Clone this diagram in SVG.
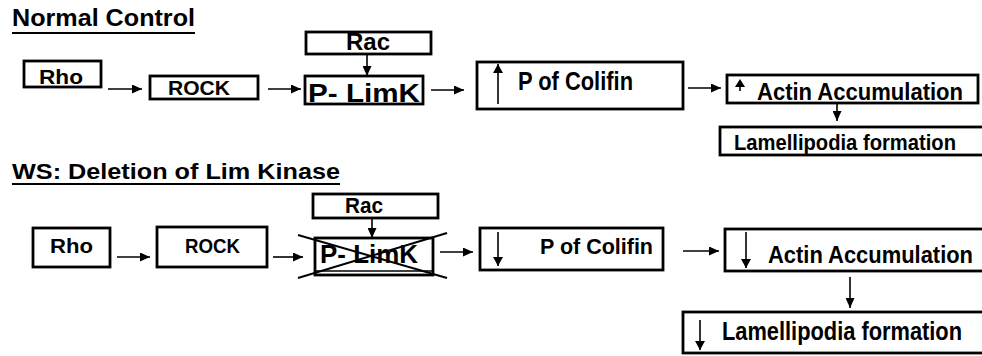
<svg xmlns="http://www.w3.org/2000/svg" width="982" height="356" viewBox="0 0 982 356">
<defs>
<marker id="ah" markerUnits="userSpaceOnUse" markerWidth="11" markerHeight="9" refX="10" refY="4.5" orient="auto">
<path d="M0,0 L10,4.5 L0,9 z" fill="#000"/>
</marker>
<marker id="ahs" markerUnits="userSpaceOnUse" markerWidth="11" markerHeight="10" refX="9" refY="5" orient="auto">
<path d="M0,0 L9,5 L0,10 z" fill="#000"/>
</marker>
</defs>
<style>
.box{fill:#fff;stroke:#000;stroke-width:2.8}
.t{font-family:"Liberation Sans",Arial,sans-serif;font-weight:bold;fill:#000}
.ttl{font-family:"Liberation Sans",Arial,sans-serif;font-weight:bold;fill:#000}
.con{stroke:#000;stroke-width:1.6;fill:none;marker-end:url(#ah)}
.in{stroke:#000;stroke-width:1.6;fill:none;marker-end:url(#ahs)}
.ul{stroke:#000;stroke-width:2.2}
.x{stroke:#000;stroke-width:2}
</style>
<rect width="982" height="356" fill="#fff"/>

<g id="title-normal">
<text class="ttl" x="12" y="26" font-size="23" textLength="183" lengthAdjust="spacingAndGlyphs">Normal Control</text>
<line class="ul" x1="12" y1="33" x2="195" y2="33"/>
</g>
<g id="title-ws">
<text class="ttl" x="12" y="179" font-size="22" textLength="328" lengthAdjust="spacingAndGlyphs">WS: Deletion of Lim Kinase</text>
<line class="ul" x1="12" y1="184" x2="340" y2="184"/>
</g>

<!-- Top row -->
<g id="n-rho1">
<rect class="box" x="24" y="61" width="77" height="26"/>
<text class="t" x="39" y="84" font-size="20" textLength="44" lengthAdjust="spacingAndGlyphs">Rho</text>
</g>
<g id="n-rock1">
<rect class="box" x="150" y="76" width="108" height="23"/>
<text class="t" x="168" y="95" font-size="21" textLength="62" lengthAdjust="spacingAndGlyphs">ROCK</text>
</g>
<g id="n-rac1">
<rect class="box" x="306" y="32" width="125" height="22"/>
<text class="t" x="346" y="50" font-size="23" textLength="44" lengthAdjust="spacingAndGlyphs">Rac</text>
</g>
<g id="n-limk1">
<rect class="box" x="305" y="76" width="118" height="28"/>
<text class="t" x="308" y="102" font-size="26" textLength="112" lengthAdjust="spacingAndGlyphs">P- LimK</text>
</g>
<g id="n-colifin1">
<rect class="box" x="477" y="62" width="206" height="47"/>
<line class="in" x1="498" y1="104" x2="498" y2="64"/>
<text class="t" x="518" y="90" font-size="25" textLength="115" lengthAdjust="spacingAndGlyphs">P of Colifin</text>
</g>
<g id="n-actin1">
<rect class="box" x="727" y="75" width="251" height="28"/>
<path d="M735,87 L745,87 L740,79 z" fill="#000"/>
<line x1="740" y1="86" x2="740" y2="91" stroke="#000" stroke-width="1.6"/>
<text class="t" x="757" y="100" font-size="23" textLength="206" lengthAdjust="spacingAndGlyphs">Actin Accumulation</text>
</g>
<g id="n-lamel1">
<rect class="box" x="720" y="127" width="270" height="28"/>
<text class="t" x="734" y="150" font-size="22" textLength="222" lengthAdjust="spacingAndGlyphs">Lamellipodia formation</text>
</g>

<!-- Bottom row -->
<g id="n-rho2">
<rect class="box" x="33" y="228" width="77" height="39"/>
<text class="t" x="50" y="253" font-size="21" textLength="43" lengthAdjust="spacingAndGlyphs">Rho</text>
</g>
<g id="n-rock2">
<rect class="box" x="157" y="227" width="110" height="40"/>
<text class="t" x="185" y="253" font-size="21" textLength="55" lengthAdjust="spacingAndGlyphs">ROCK</text>
</g>
<g id="n-rac2">
<rect class="box" x="313" y="194" width="125" height="24"/>
<text class="t" x="345" y="213" font-size="22" textLength="38" lengthAdjust="spacingAndGlyphs">Rac</text>
</g>
<g id="n-limk2">
<rect class="box" x="315" y="238" width="118" height="37"/>
<line x1="315" y1="271" x2="433" y2="271" stroke="#000" stroke-width="1.6"/>
<text class="t" x="320" y="263" font-size="25" textLength="98" lengthAdjust="spacingAndGlyphs">P- LimK</text>
<line class="x" x1="298" y1="235" x2="447" y2="278"/>
<line class="x" x1="447" y1="233" x2="298" y2="278"/>
</g>
<g id="n-colifin2">
<rect class="box" x="480" y="228" width="183" height="42"/>
<line class="in" x1="498" y1="232" x2="498" y2="266"/>
<text class="t" x="540" y="254" font-size="22" textLength="113" lengthAdjust="spacingAndGlyphs">P of Colifin</text>
</g>
<g id="n-actin2">
<rect class="box" x="725" y="229" width="265" height="42"/>
<line class="in" x1="746" y1="232" x2="746" y2="268"/>
<text class="t" x="768" y="263" font-size="24" textLength="205" lengthAdjust="spacingAndGlyphs">Actin Accumulation</text>
</g>
<g id="n-lamel2">
<rect class="box" x="683" y="312" width="307" height="41"/>
<line class="in" x1="700" y1="320" x2="700" y2="350"/>
<text class="t" x="722" y="340" font-size="25" textLength="240" lengthAdjust="spacingAndGlyphs">Lamellipodia formation</text>
</g>

<g id="connectors">
<line class="con" x1="108" y1="89" x2="142" y2="89"/>
<line class="con" x1="268" y1="89" x2="301" y2="89"/>
<line class="con" x1="367" y1="54" x2="367" y2="76"/>
<line class="con" x1="431" y1="90" x2="464" y2="90"/>
<line class="con" x1="688" y1="88" x2="721" y2="88"/>
<line class="con" x1="837" y1="103" x2="837" y2="121"/>

<line class="con" x1="117" y1="257" x2="150" y2="257"/>
<line class="con" x1="273" y1="257" x2="303" y2="257"/>
<line class="con" x1="372" y1="218" x2="372" y2="238"/>
<line class="con" x1="440" y1="252" x2="473" y2="252"/>
<line class="con" x1="683" y1="251" x2="719" y2="251"/>
<line class="con" x1="850" y1="277" x2="850" y2="308"/>
</g>
</svg>
